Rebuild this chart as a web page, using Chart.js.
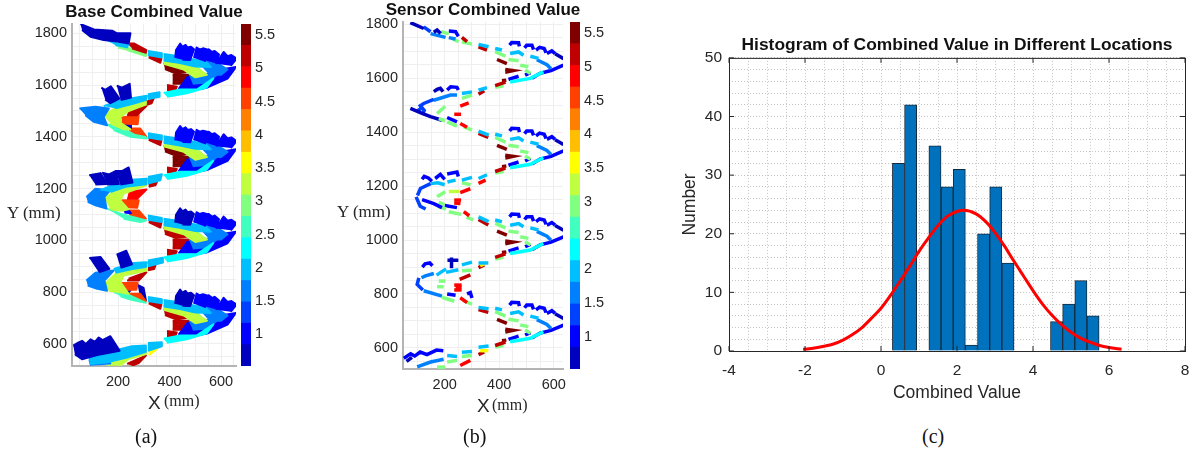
<!DOCTYPE html>
<html>
<head>
<meta charset="utf-8">
<script src="https://cdn.jsdelivr.net/npm/chart.js@4/dist/chart.umd.min.js"></script>
<style>
  body { margin: 0; background: #fff; width: 1200px; height: 454px; overflow: hidden; position: relative; }
  canvas { position: absolute; }
  .lbl { position: absolute; white-space: nowrap; color: #262626; font-family: "Liberation Serif", serif; font-size: 16px; line-height: 1; }
  .sans { font-family: "Liberation Sans", sans-serif; font-size: 19px; }
  .cap { color: #111; font-size: 20px; }
</style>
</head>
<body>
<canvas id="baseChart" style="left:0;top:0"></canvas>
<canvas id="baseBar" style="left:236px;top:0"></canvas>
<canvas id="sensorChart" style="left:330px;top:0"></canvas>
<canvas id="sensorBar" style="left:566px;top:0"></canvas>
<canvas id="histChart" style="left:670px;top:30px"></canvas>

<span class="lbl" style="left:7px;top:204px;font-size:17px">Y (mm)</span>
<span class="lbl sans" style="left:148px;top:393px">X</span>
<span class="lbl" style="left:164px;top:393px">(mm)</span>
<span class="lbl cap" style="left:135px;top:426px">(a)</span>
<span class="lbl" style="left:337px;top:203px;font-size:17px">Y (mm)</span>
<span class="lbl sans" style="left:477px;top:396px">X</span>
<span class="lbl" style="left:492px;top:397px">(mm)</span>
<span class="lbl cap" style="left:463px;top:426px">(b)</span>
<span class="lbl cap" style="left:922px;top:426px">(c)</span>

<script>
// colour levels of the bars on the right of panels a and b
const jetColors = ['#0000BF', '#0000FF', '#0040FF', '#0080FF', '#00BFFF', '#00FFFF', '#40FFBF', '#80FF80',
  '#BFFF40', '#FFFF00', '#FFBF00', '#FF8000', '#FF4000', '#FF0000', '#BF0000', '#800000'];
const levelEdges = [0.524, 0.845, 1.167, 1.488, 1.81, 2.131, 2.452, 2.774, 3.095, 3.416, 3.738, 4.059, 4.38, 4.702, 5.023, 5.344, 5.665];

// panel a: [level, [x, y, x, y, ...]] outlines in mm, one list per turn
const baseTopArm = [
  [0, [54,1836,106,1815,177,1810,196,1800,248,1800,241,1761,196,1768,144,1774,93,1787,60,1813]],
  [4, [132,1784,196,1761,241,1761,235,1746,190,1755]],
  [7, [170,1768,222,1755,241,1735,200,1745]],
  [14, [235,1761,261,1761,310,1735,308,1725,254,1742]],
  [7, [235,1745,310,1720,308,1712,235,1735]],
  [4, [316,1732,370,1723,370,1707,316,1716]],
  [14, [319,1716,368,1703,364,1686,319,1707]]
];
const baseRight1 = [
  [1, [422,1705,425,1735,441,1760,450,1748,462,1755,470,1745,483,1748,495,1738,480,1697,450,1698]],
  [1, [495,1705,505,1745,517,1738,530,1742,552,1736,537,1690]],
  [1, [540,1695,552,1738,565,1728,575,1732,592,1718,582,1683]],
  [1, [580,1682,610,1728,625,1712,640,1716,660,1702,638,1675]],
  [4, [377,1720,430,1712,490,1700,540,1690,560,1670,500,1672,440,1685,377,1695]],
  [3, [510,1695,585,1685,625,1660,600,1640,560,1640,530,1672]],
  [8, [377,1700,430,1695,480,1680,545,1640,500,1630,455,1660,377,1682]],
  [7, [470,1660,505,1672,535,1642,500,1633]],
  [5, [377,1570,441,1583,506,1583,570,1626,544,1591,467,1568,390,1555]],
  [3, [470,1650,505,1640,590,1645,545,1610,490,1605]],
  [1, [435,1585,470,1632,525,1622,495,1585]],
  [1, [490,1606,570,1655,658,1670,625,1625,545,1590,500,1582]],
  [15, [377,1684,410,1678,465,1650,425,1645,382,1662]],
  [15, [412,1640,480,1640,468,1605,412,1605]],
  [14, [390,1600,428,1594,422,1581,390,1581]],
  [4, [316,1565,361,1572,361,1555,316,1546]],
  [14, [312,1536,338,1548,330,1530,312,1524]]
];
const baseLeft1 = [
  [0, [135,1590,150,1582,172,1595,205,1548,170,1530,150,1545]],
  [0, [195,1598,215,1590,245,1605,250,1552,210,1542]],
  [4, [144,1519,209,1542,312,1559,308,1542,261,1529,190,1510]],
  [3, [50,1510,112,1516,164,1510,144,1477,157,1445,106,1458,73,1484]],
  [8, [144,1484,203,1519,310,1540,310,1526,241,1500,209,1477,212,1452,248,1429,222,1429,170,1452]],
  [7, [150,1484,190,1500,205,1475,205,1455,175,1455]],
  [6, [157,1445,183,1449,267,1407,306,1400,312,1394,248,1400,183,1426]],
  [14, [241,1510,310,1519,274,1484,235,1484]],
  [12, [212,1475,280,1484,276,1449,216,1452]],
  [0, [209,1458,248,1445,250,1432,215,1436]],
  [12, [235,1432,286,1432,310,1400,254,1413]],
  [4, [316,1414,370,1405,370,1389,316,1398]],
  [14, [319,1398,368,1385,364,1368,319,1389]]
];
const baseRight2 = [
  [1, [422,1387,425,1417,441,1442,450,1430,462,1437,470,1427,483,1430,495,1420,480,1379,450,1380]],
  [1, [495,1387,505,1427,517,1420,530,1424,552,1418,537,1372]],
  [1, [540,1377,552,1420,565,1410,575,1414,592,1400,582,1365]],
  [1, [580,1364,610,1410,625,1394,640,1398,660,1384,638,1357]],
  [4, [377,1402,430,1394,490,1382,540,1372,560,1352,500,1354,440,1367,377,1377]],
  [3, [510,1377,585,1367,625,1342,600,1322,560,1322,530,1354]],
  [8, [377,1382,430,1377,480,1362,545,1322,500,1312,455,1342,377,1364]],
  [7, [470,1342,505,1354,535,1324,500,1315]],
  [5, [377,1252,441,1265,506,1265,570,1308,544,1273,467,1250,390,1237]],
  [3, [470,1332,505,1322,590,1327,545,1292,490,1287]],
  [1, [435,1267,470,1314,525,1304,495,1267]],
  [1, [490,1288,570,1337,658,1352,625,1307,545,1272,500,1264]],
  [15, [377,1366,410,1360,465,1332,425,1327,382,1344]],
  [15, [412,1322,480,1322,468,1287,412,1287]],
  [14, [390,1282,428,1276,422,1263,390,1263]],
  [4, [316,1245,370,1256,364,1232,316,1220]],
  [14, [319,1217,351,1226,345,1213,319,1207]]
];
const baseLeft2 = [
  [0, [88,1252,132,1260,157,1218,112,1216]],
  [0, [138,1262,165,1255,190,1268,203,1218,157,1216]],
  [0, [190,1268,215,1268,241,1282,256,1224,209,1216]],
  [4, [132,1194,222,1232,312,1238,310,1217,229,1207,170,1187]],
  [3, [77,1168,112,1200,170,1194,147,1168,155,1123,112,1136,82,1149]],
  [8, [147,1161,196,1200,310,1226,310,1213,222,1181,209,1155,240,1120,215,1115,170,1120]],
  [7, [152,1161,190,1180,205,1150,215,1125,175,1125]],
  [6, [157,1123,209,1103,261,1090,308,1077,286,1071,222,1084]],
  [13, [241,1187,310,1197,274,1161,235,1161]],
  [12, [212,1155,280,1155,274,1126,216,1129]],
  [1, [212,1130,232,1125,250,1105,225,1108]],
  [12, [235,1116,280,1116,308,1084,248,1090]],
  [4, [316,1096,370,1087,370,1071,316,1080]],
  [14, [319,1080,368,1067,364,1050,319,1071]]
];
const baseRight3 = [
  [0, [422,1069,425,1099,441,1124,450,1112,462,1119,470,1109,483,1112,495,1102,480,1061,450,1062]],
  [1, [495,1069,505,1109,517,1102,530,1106,552,1100,537,1054]],
  [1, [540,1059,552,1102,565,1092,575,1096,592,1082,582,1047]],
  [1, [580,1046,610,1092,625,1076,640,1080,660,1066,638,1039]],
  [4, [377,1084,430,1076,490,1064,540,1054,560,1034,500,1036,440,1049,377,1059]],
  [3, [510,1059,585,1049,625,1024,600,1004,560,1004,530,1036]],
  [8, [377,1064,430,1059,480,1044,545,1004,500,994,455,1024,377,1046]],
  [7, [470,1024,505,1036,535,1006,500,997]],
  [5, [377,934,441,947,506,947,570,990,544,955,467,932,390,919]],
  [3, [470,1014,505,1004,590,1009,545,974,490,969]],
  [1, [435,949,470,996,525,986,495,949]],
  [1, [490,970,570,1019,658,1034,625,989,545,954,500,946]],
  [14, [377,1048,410,1042,465,1014,425,1009,382,1026]],
  [14, [412,1004,480,1004,468,969,412,969]],
  [14, [390,964,428,958,422,945,390,945]],
  [4, [316,923,374,933,374,915,316,900]],
  [14, [316,897,345,903,340,890,316,885]]
];
const baseLeft3 = [
  [0, [88,932,132,936,166,890,125,877]],
  [0, [194,945,232,960,254,908,210,894]],
  [4, [183,890,261,913,312,916,308,897,255,890,190,875]],
  [3, [77,845,112,875,183,884,147,845,157,806,119,813,82,826]],
  [8, [144,828,190,871,310,897,310,884,222,864,209,839,241,794,209,800,164,806]],
  [7, [150,828,190,855,205,835,215,805,170,810]],
  [6, [183,800,241,790,308,759,248,772,209,784]],
  [14, [241,852,310,877,280,845,235,845]],
  [12, [212,836,276,836,271,810,216,810]],
  [12, [241,794,286,794,308,765,254,772]],
  [0, [276,828,299,817,308,769,286,778]],
  [0, [209,818,250,810,240,798,215,800]],
  [4, [316,782,370,773,370,757,316,766]],
  [14, [319,766,368,753,364,736,319,757]]
];
const baseRight4 = [
  [0, [422,755,425,785,441,810,450,798,462,805,470,795,483,798,495,788,480,747,450,748]],
  [1, [495,755,505,795,517,788,530,792,552,786,537,740]],
  [1, [540,745,552,788,565,778,575,782,592,768,582,733]],
  [1, [580,732,610,778,625,762,640,766,660,752,638,725]],
  [4, [377,770,430,762,490,750,540,740,560,720,500,722,440,735,377,745]],
  [3, [510,745,585,735,625,710,600,690,560,690,530,722]],
  [8, [377,750,430,745,480,730,545,690,500,680,455,710,377,732]],
  [7, [470,710,505,722,535,692,500,683]],
  [5, [377,620,441,633,506,633,570,676,544,641,467,618,390,605]],
  [3, [470,700,505,690,590,695,545,660,490,655]],
  [1, [435,635,470,682,525,672,495,635]],
  [1, [490,656,570,705,658,720,625,675,545,640,500,632]],
  [14, [377,734,410,728,465,700,425,695,382,712]],
  [14, [412,690,480,690,468,655,412,655]],
  [14, [390,650,428,644,422,631,390,631]],
  [4, [316,604,370,607,370,591,316,574]],
  [9, [319,570,357,591,351,581,319,557]]
];
const baseBottom = [
  [0, [26,594,45,605,60,612,75,600,93,618,110,608,125,625,140,615,170,630,206,574,119,557,60,541,32,561]],
  [4, [86,542,183,574,254,591,308,594,308,570,235,548,157,529,92,523]],
  [3, [86,535,150,550,170,525,90,520]],
  [8, [157,516,203,548,308,567,308,561,241,542,209,516]],
  [14, [235,523,308,555,280,526,254,516]]
];

// panel b: [level, [x, y, x, y, ...]] short strokes in mm
const sensorTopArm = [
  [0, [74,1806,123,1784]], [2, [123,1790,148,1772]], [0, [160,1770,172,1778,185,1765]],
  [3, [148,1765,203,1751]], [7, [186,1772,215,1765]], [1, [215,1775,240,1772,250,1755]],
  [3, [215,1750,240,1745]], [7, [227,1747,251,1735]], [14, [263,1751,282,1735]],
  [7, [263,1735,300,1726]], [4, [324,1725,361,1716]], [14, [324,1716,355,1704]]
];
const sensorRight1 = [
  [4, [385,1710,410,1704]], [7, [385,1698,423,1681]], [15, [392,1669,428,1654]],
  [1, [438,1722,446,1732,471,1731,474,1718]], [1, [493,1712,501,1722,520,1722,526,1706]],
  [1, [535,1704,548,1714,565,1710,572,1694]], [1, [575,1691,593,1701,605,1691]], [0, [605,1690,636,1672]],
  [4, [440,1691,471,1697,489,1685]], [4, [514,1681,544,1673]], [3, [538,1668,575,1650,590,1635]],
  [7, [434,1669,471,1664]], [7, [477,1648,507,1642]], [7, [495,1630,514,1617]],
  [5, [440,1586,514,1599,562,1623]], [1, [636,1648,590,1628,550,1618,520,1600]],
  [1, [434,1595,471,1607]], [1, [495,1611,514,1620]], [15, [422,1622,450,1628,422,1632]],
  [14, [385,1572,423,1585]], [15, [410,1590,426,1592]], [7, [385,1566,416,1572]]
];
const sensorLeft1 = [
  [0, [160,1550,172,1558,184,1562,194,1550]], [1, [209,1556,222,1568,245,1566,250,1556]],
  [4, [263,1543,300,1549]], [4, [324,1555,355,1565]], [14, [324,1540,345,1553]],
  [3, [160,1518,221,1537,245,1537]], [2, [105,1494,123,1506,160,1521]], [7, [263,1525,300,1537]],
  [13, [257,1496,288,1508]], [7, [172,1469,202,1496]], [7, [178,1450,202,1442]], [13, [235,1466,260,1466]],
  [0, [74,1488,117,1469,148,1457,190,1444]], [2, [99,1478,117,1490,125,1480,117,1465]],
  [1, [209,1454,245,1438]], [7, [209,1438,245,1422]], [13, [257,1432,282,1418]], [7, [270,1420,300,1407]],
  [4, [324,1404,361,1389]], [14, [324,1395,360,1380]]
];
const sensorRight2 = [
  [4, [385,1392,410,1386]], [7, [385,1380,423,1363]], [15, [392,1351,428,1336]],
  [1, [438,1404,446,1414,471,1413,474,1400]], [1, [493,1394,501,1404,520,1404,526,1388]],
  [1, [535,1386,548,1396,565,1392,572,1376]], [1, [575,1373,593,1383,605,1373]], [0, [605,1372,636,1354]],
  [4, [440,1373,471,1379,489,1367]], [4, [514,1363,544,1355]], [3, [538,1350,575,1332,590,1317]],
  [7, [434,1351,471,1346]], [7, [477,1330,507,1324]], [7, [495,1312,514,1299]],
  [5, [440,1268,514,1281,562,1305]], [1, [636,1330,590,1310,550,1300,520,1282]],
  [1, [434,1277,471,1289]], [1, [495,1293,514,1302]], [15, [422,1304,450,1310,422,1314]],
  [14, [385,1254,423,1267]], [15, [410,1272,426,1274]], [7, [385,1248,416,1254]]
];
const sensorLeft2 = [
  [1, [117,1225,125,1236,140,1230,153,1218]], [1, [165,1228,184,1243,200,1225]], [1, [209,1245,245,1252,250,1235]],
  [4, [263,1222,300,1232]], [4, [324,1228,355,1242]], [13, [324,1210,350,1222]],
  [2, [100,1165,111,1191,148,1209]], [4, [148,1209,175,1212,200,1205]], [4, [210,1215,240,1222]],
  [7, [263,1212,295,1205]], [8, [215,1180,255,1180]], [13, [257,1176,294,1190]], [7, [172,1160,202,1179]],
  [13, [235,1148,260,1148]], [13, [235,1137,258,1135]], [2, [95,1160,110,1125,130,1115]],
  [1, [117,1150,160,1135,190,1120]], [7, [175,1125,205,1115]], [7, [178,1140,200,1130]], [1, [200,1128,245,1120]],
  [7, [215,1105,260,1095]], [13, [270,1105,290,1090]], [7, [280,1085,305,1075]],
  [4, [324,1086,361,1068]], [14, [324,1076,360,1056]]
];
const sensorRight3 = [
  [4, [385,1074,410,1068]], [7, [385,1062,423,1045]], [15, [392,1033,428,1018]],
  [1, [438,1086,446,1096,471,1095,474,1082]], [1, [493,1076,501,1086,520,1086,526,1070]],
  [1, [535,1068,548,1078,565,1074,572,1058]], [1, [575,1055,593,1065,605,1055]], [0, [605,1054,636,1036]],
  [4, [440,1055,471,1061,489,1049]], [4, [514,1045,544,1037]], [3, [538,1032,575,1014,590,999]],
  [7, [434,1033,471,1028]], [7, [477,1012,507,1006]], [7, [495,994,514,981]],
  [5, [440,950,514,963,562,987]], [1, [636,1012,590,992,550,982,520,964]],
  [1, [434,959,471,971]], [1, [495,975,514,984]], [15, [422,986,450,992,422,996]],
  [14, [385,936,423,949]], [15, [410,954,426,956]], [7, [385,930,416,936]]
];
const sensorLeft3 = [
  [1, [118,900,128,912,145,915,155,905]], [0, [210,925,250,925]], [0, [225,935,225,895]],
  [4, [263,908,300,918]], [4, [324,915,360,915]], [9, [330,905,345,912]], [14, [324,898,345,908]],
  [7, [263,886,300,888]], [3, [115,860,129,867,160,876]], [4, [170,870,205,893]], [4, [205,880,250,890]],
  [14, [255,854,294,871]], [7, [178,848,203,848]], [7, [172,827,196,827]],
  [13, [235,833,262,833]], [13, [235,815,262,815]], [13, [240,825,262,825]],
  [2, [105,860,99,835,120,815]], [3, [123,812,190,792]], [1, [209,800,240,795]], [1, [282,800,294,805,300,785]],
  [7, [190,788,235,773]], [13, [257,786,282,768]], [7, [270,775,300,762]],
  [4, [324,750,361,745]], [14, [324,742,360,732]]
];
const sensorRight4 = [
  [4, [385,747,410,741]], [7, [385,735,423,718]], [15, [392,706,428,691]],
  [1, [438,759,446,769,471,768,474,755]], [1, [493,749,501,759,520,759,526,743]],
  [1, [535,741,548,751,565,747,572,731]], [1, [575,728,593,738,605,728]], [0, [605,727,636,709]],
  [4, [440,728,471,734,489,722]], [4, [514,718,544,710]], [3, [538,705,575,687,590,672]],
  [7, [434,706,471,701]], [7, [477,685,507,679]], [7, [495,667,514,654]],
  [5, [440,623,514,636,562,660]], [1, [636,685,590,665,550,655,520,637]],
  [1, [434,632,471,644]], [1, [495,648,514,657]], [15, [422,659,450,665,422,669]],
  [14, [385,609,423,622]], [15, [410,627,426,629]], [7, [385,603,416,609]]
];
const sensorBottom = [
  [1, [50,562,75,578,90,570,110,585,135,575,170,592,195,590]], [0, [60,550,80,565]],
  [3, [99,530,148,548,196,558]], [4, [209,572,245,568]], [4, [263,584,300,587]],
  [7, [263,568,300,572]], [7, [172,529,202,529]], [7, [209,548,245,554]], [13, [257,535,294,554]],
  [4, [324,603,361,607]], [9, [330,590,360,590]], [14, [324,575,345,585]]
];

// panel c: histogram bins and the fitted curve
const binCenters = [0.46, 0.78, 1.10, 1.42, 1.74, 2.06, 2.38, 2.70, 3.02, 3.34, 3.66, 3.98, 4.30, 4.62, 4.94, 5.26, 5.58];
const binCounts = [32, 42, 0, 35, 28, 31, 1, 20, 28, 15, 0, 0, 0, 5, 8, 12, 6];
const curveX = [-2.05, -1.75, -1.5, -1.25, -1, -0.75, -0.5, -0.25, 0, 0.25, 0.5, 0.75, 1, 1.25, 1.5, 1.75, 2, 2.17, 2.5, 2.75, 3, 3.25, 3.5, 3.75, 4, 4.25, 4.5, 4.75, 5, 5.25, 5.5, 5.75, 6, 6.33];
const curveY = [0.3, 0.5, 0.8, 1.2, 1.85, 2.8, 4.0, 5.6, 7.3, 9.5, 11.9, 14.4, 17, 19.3, 21.4, 23, 23.8, 24, 23.4, 22.1, 20.2, 17.9, 15.3, 12.8, 10.3, 8, 6.1, 4.5, 3.2, 2.2, 1.5, 0.95, 0.6, 0.3];

Chart.defaults.font.family = '"Liberation Sans", sans-serif';
Chart.defaults.color = '#262626';
Chart.defaults.animation = false;

function toPoints(flat) {
  const pts = [];
  for (let i = 0; i < flat.length; i += 2) pts.push({ x: flat[i], y: flat[i + 1] });
  return pts;
}

function blobDataset(blob) {
  return {
    data: toPoints(blob[1]),
    showLine: true,
    fill: 'shape',
    backgroundColor: jetColors[blob[0]],
    borderColor: jetColors[blob[0]],
    borderWidth: 2,
    borderJoinStyle: 'round',
    pointRadius: 0
  };
}

function strokeDataset(stroke) {
  return {
    data: toPoints(stroke[1]),
    showLine: true,
    fill: false,
    borderColor: jetColors[stroke[0]],
    borderWidth: 3.5,
    tension: 0,
    pointRadius: 0
  };
}

// title is wider than the plot: let it use the whole canvas, which is centred on the plot
const wideTitle = {
  id: 'wideTitle',
  afterLayout(chart) {
    chart.titleBlock.left = 0;
    chart.titleBlock.right = chart.width;
  }
};

// shared setup of panels a and b
function mapChart(id, w, h, datasets, box, title) {
  const el = document.getElementById(id);
  el.width = w;
  el.height = h;
  return new Chart(el, {
    type: 'scatter',
    data: { datasets: datasets },
    options: {
      responsive: false,
      devicePixelRatio: 1,
      layout: { padding: { left: 0, right: w - box.right, top: 0, bottom: 0 } },
      plugins: {
        legend: { display: false },
        tooltip: { enabled: false },
        title: {
          display: true, text: title, color: '#111',
          font: { size: 17, weight: 'bold' }, padding: { top: box.titleTop, bottom: box.top - box.titleTop - 20.4 }
        }
      },
      scales: {
        x: {
          type: 'linear', min: box.xMin, max: box.xMax,
          afterFit: s => { s.height = h - box.bottom; s.paddingLeft = 0; s.paddingRight = 0; },
          grid: { color: '#efefef', drawTicks: false },
          border: { color: '#b4b4b4', width: 2 },
          ticks: {
            stepSize: 50, autoSkip: false, maxRotation: 0, includeBounds: false, padding: box.xPad, font: { size: 14.5 },
            callback: v => (v % 200 === 0 ? String(v) : '')
          }
        },
        y: {
          type: 'linear', min: box.yMin, max: box.yMax,
          afterFit: s => { s.width = box.left; s.paddingTop = 0; s.paddingBottom = 0; },
          grid: { color: '#efefef', drawTicks: false },
          border: { color: '#b4b4b4', width: 2 },
          ticks: {
            stepSize: 50, autoSkip: false, includeBounds: false, padding: 5, font: { size: 14.5 },
            callback: v => (v % 200 === 0 ? String(v) : '')
          }
        }
      }
    },
    plugins: [wideTitle]
  });
}

function colorBar(id, w, h, box) {
  const el = document.getElementById(id);
  el.width = w;
  el.height = h;
  return new Chart(el, {
    type: 'bar',
    data: {
      labels: [''],
      datasets: jetColors.map((c, i) => ({
        data: [[levelEdges[i], levelEdges[i + 1]]],
        backgroundColor: c,
        grouped: false,
        barPercentage: 1,
        categoryPercentage: 1
      }))
    },
    options: {
      responsive: false,
      devicePixelRatio: 1,
      layout: { padding: { left: box.left, right: 0, top: box.top, bottom: h - box.bottom } },
      plugins: { legend: { display: false }, tooltip: { enabled: false } },
      scales: {
        x: { display: false },
        y: {
          position: 'right', min: levelEdges[0], max: levelEdges[16],
          afterFit: s => { s.width = w - box.left - box.barW; s.paddingTop = 0; s.paddingBottom = 0; },
          grid: { display: false, drawTicks: false },
          border: { display: false },
          ticks: { stepSize: 0.5, includeBounds: false, padding: 4, font: { size: 14.5 }, callback: v => String(v) }
        }
      }
    }
  });
}

const baseBlobs = [].concat(baseTopArm, baseRight1, baseLeft1, baseRight2, baseLeft2, baseRight3, baseLeft3, baseRight4, baseBottom);
const sensorStrokes = [].concat(sensorTopArm, sensorRight1, sensorLeft1, sensorRight2, sensorLeft2, sensorRight3, sensorLeft3, sensorRight4, sensorBottom);

mapChart('baseChart', 308, 410, baseBlobs.map(blobDataset),
  { left: 72, right: 236, top: 24, bottom: 366, titleTop: 2, xPad: 7, xMin: 21, xMax: 658, yMin: 515, yMax: 1836 },
  'Base Combined Value');
mapChart('sensorChart', 306, 410, sensorStrokes.map(strokeDataset),
  { left: 73, right: 233, top: 22, bottom: 369, titleTop: 0, xPad: 7, xMin: 47, xMax: 634, yMin: 522, yMax: 1808 },
  'Sensor Combined Value');
colorBar('baseBar', 50, 380, { left: 5, barW: 10, top: 24, bottom: 366 });
colorBar('sensorBar', 50, 380, { left: 4, barW: 10, top: 22, bottom: 369 });

// box and inward tick marks round the histogram
const histFrame = {
  id: 'histFrame',
  afterDraw(chart) {
    const { ctx, chartArea: a, scales } = chart;
    ctx.save();
    ctx.strokeStyle = '#262626';
    ctx.lineWidth = 1;
    ctx.strokeRect(a.left + 0.5, a.top + 0.5, a.right - a.left, a.bottom - a.top);
    ctx.beginPath();
    scales.x.ticks.forEach(t => {
      if (t.value % 2 !== 0) return;
      const px = scales.x.getPixelForValue(t.value);
      ctx.moveTo(px, a.bottom); ctx.lineTo(px, a.bottom - 5);
      ctx.moveTo(px, a.top); ctx.lineTo(px, a.top + 5);
    });
    scales.y.ticks.forEach(t => {
      if (t.value % 10 !== 0) return;
      const py = scales.y.getPixelForValue(t.value);
      ctx.moveTo(a.left, py); ctx.lineTo(a.left + 5, py);
      ctx.moveTo(a.right, py); ctx.lineTo(a.right - 5, py);
    });
    ctx.stroke();
    ctx.restore();
  }
};

const histEl = document.getElementById('histChart');
histEl.width = 530;
histEl.height = 380;
new Chart(histEl, {
  type: 'bar',
  data: {
    datasets: [
      {
        type: 'line',
        data: curveX.map((x, i) => ({ x: x, y: curveY[i] })),
        borderColor: '#FF0000',
        borderWidth: 3,
        cubicInterpolationMode: 'monotone',
        pointRadius: 0,
        order: 0
      },
      {
        data: binCenters.map((x, i) => ({ x: x, y: binCounts[i] })),
        backgroundColor: '#0072BD',
        borderColor: '#16293a',
        borderWidth: 1,
        barPercentage: 1,
        categoryPercentage: 1,
        order: 1
      }
    ]
  },
  options: {
    responsive: false,
    devicePixelRatio: 1,
    layout: { padding: { left: 0, right: 15, top: 0, bottom: 0 } },
    plugins: {
      legend: { display: false },
      tooltip: { enabled: false },
      title: {
        display: true, text: 'Histogram of Combined Value in Different Locations', fullSize: false, color: '#111',
        font: { size: 17.4, weight: 'bold' }, padding: { top: 5, bottom: 2 }
      }
    },
    scales: {
      x: {
        type: 'linear', min: -4, max: 8, offset: false,
        afterFit: s => { s.height = 59; s.paddingLeft = 0; s.paddingRight = 0; },
        grid: { color: '#c4c4c4', drawTicks: false, offset: false },
        border: { display: false, dash: [1, 2] },
        title: { display: true, text: 'Combined Value', font: { size: 17.5 }, padding: { top: 0, bottom: 6 } },
        ticks: {
          stepSize: 0.5, autoSkip: false, maxRotation: 0, padding: 10, font: { size: 15.5 },
          callback: v => (v % 2 === 0 ? String(v) : '')
        }
      },
      y: {
        type: 'linear', min: 0, max: 50,
        afterFit: s => { s.width = 59; s.paddingTop = 0; s.paddingBottom = 0; },
        grid: { color: '#c4c4c4', drawTicks: false },
        border: { display: false, dash: [1, 2] },
        title: { display: true, text: 'Number', font: { size: 17.5 }, padding: { top: 10, bottom: 0 } },
        ticks: {
          stepSize: 2, autoSkip: false, padding: 7, font: { size: 15.5 },
          callback: v => (v % 10 === 0 ? String(v) : '')
        }
      }
    }
  },
  plugins: [histFrame]
});
</script>
</body>
</html>
